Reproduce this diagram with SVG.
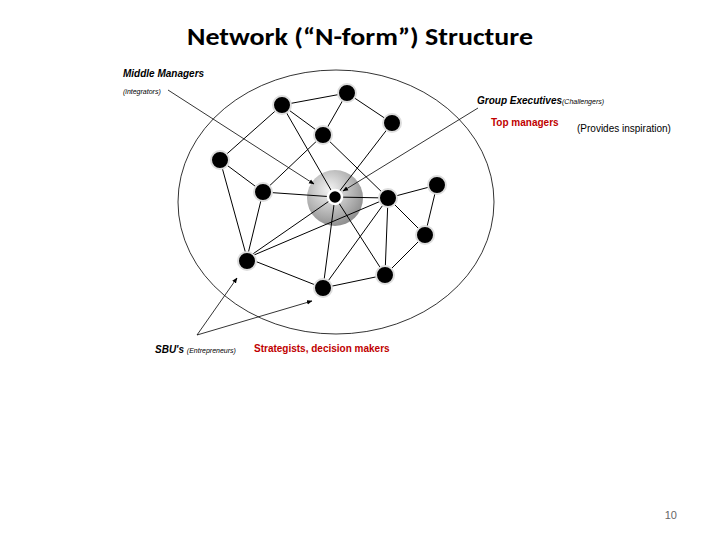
<svg xmlns="http://www.w3.org/2000/svg" width="720" height="540" viewBox="0 0 720 540">
<defs>
<radialGradient id="g" cx="0.4" cy="0.35" r="0.7"><stop offset="0" stop-color="#f4f4f4"/><stop offset="1" stop-color="#8a8a8a"/></radialGradient>
<marker id="ar" viewBox="0 0 10 10" refX="9" refY="5" markerWidth="7" markerHeight="7" orient="auto"><path d="M0,1 L10,5 L0,9 z" fill="#000"/></marker>
<style>
.e{stroke:#000;stroke-width:1;fill:none}
.a{stroke:#000;stroke-width:0.8;fill:none;marker-end:url(#ar)}
.n{fill:#000;stroke:#ddd;stroke-width:2}
.t{font-family:"Liberation Sans",Arial,sans-serif}
</style>
</defs>
<rect width="720" height="540" fill="#fff"/>
<text x="187" y="45" textLength="346" lengthAdjust="spacingAndGlyphs" font-family="Carlito,'Liberation Sans',sans-serif" font-size="25" font-weight="bold" fill="#000">Network (“N-form”) Structure</text>
<ellipse cx="336" cy="202" rx="158" ry="132" fill="none" stroke="#000" stroke-width="0.8"/>
<circle cx="335" cy="198" r="28" fill="url(#g)"/>
<g id="connectors">
<path class="e" d="M282,105L347,93 M282,105L323,135 M347,93L323,135 M347,93L392,123 M282,105L220,160 M282,105L335,197 M323,135L388,198 M323,135L263,192 M392,123L335,197 M220,160L263,192 M220,160L247,258 M263,192L247,258 M263,192L335,197 M335,197L388,198 M335,197L247,258 M388,198L247,258 M335,197L323,288 M335,197L385,275 M388,198L323,288 M388,198L385,275 M437,185L388,198 M437,185L425,235 M425,235L388,198 M425,235L385,275 M247,258L323,288 M323,288L385,275"/>
<path class="a" d="M168,90L314,184"/>
<path class="a" d="M478,108L343,191"/>
<path class="a" d="M197,335L237,278"/>
<path class="a" d="M197,335L312,301"/>
</g>
<g id="nodes">
<circle id="nA" class="n" cx="282" cy="105" r="9"/>
<circle id="nB" class="n" cx="347" cy="93" r="9"/>
<circle id="nC" class="n" cx="323" cy="135" r="9"/>
<circle id="nD" class="n" cx="392" cy="123" r="9"/>
<circle id="nE" class="n" cx="220" cy="160" r="9"/>
<circle id="nF" class="n" cx="263" cy="192" r="9"/>
<circle id="nG" cx="335" cy="197" r="7" fill="#000" stroke="#fff" stroke-width="2.5"/>
<circle id="nH" class="n" cx="388" cy="198" r="9"/>
<circle id="nI" class="n" cx="437" cy="185" r="9"/>
<circle id="nJ" class="n" cx="425" cy="235" r="9"/>
<circle id="nK" class="n" cx="247" cy="261" r="9"/>
<circle id="nL" class="n" cx="385" cy="275" r="9"/>
<circle id="nM" class="n" cx="323" cy="288" r="9"/>
</g>
<g id="labels" class="t">
<text x="123" y="77" font-size="10" font-weight="bold" font-style="italic">Middle Managers</text>
<text x="123" y="94" font-size="7" font-style="italic">(integrators)</text>
<text x="477" y="104" font-size="10" font-weight="bold" font-style="italic">Group Executives<tspan font-size="7" font-weight="normal">(Challengers)</tspan></text>
<text x="491" y="126" font-size="10" font-weight="bold" fill="#c00000">Top managers</text>
<text x="577" y="132" font-size="10">(Provides inspiration)</text>
<text x="155" y="353" font-size="10" font-weight="bold" font-style="italic">SBU's <tspan font-size="7" font-weight="normal">(Entrepreneurs)</tspan></text>
<text x="254" y="352" font-size="10" font-weight="bold" fill="#c00000">Strategists, decision makers</text>
<text x="677" y="519" font-size="11" fill="#666" text-anchor="end">10</text>
</g>
</svg>
